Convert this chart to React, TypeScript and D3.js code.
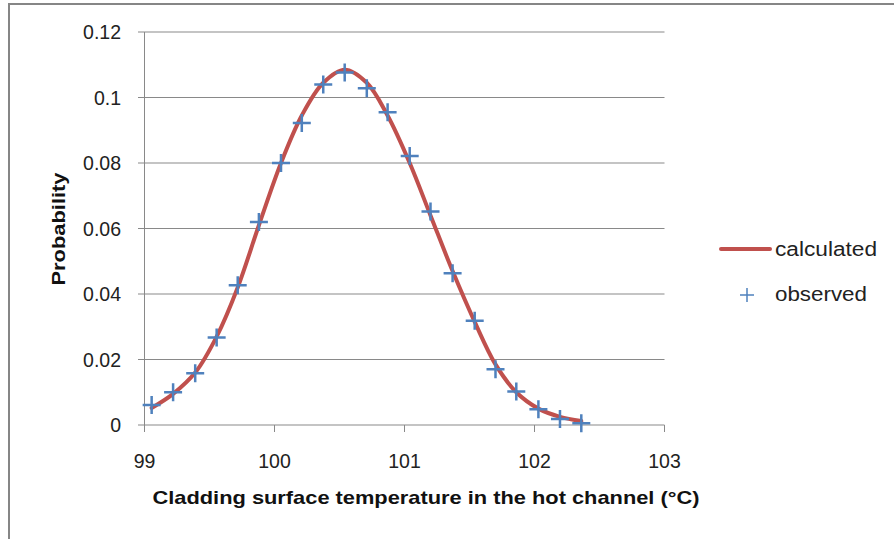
import React from 'react';
import * as d3 from 'd3';

// temperatures (°C) of the observed points
const temps = [99.055, 99.22, 99.39, 99.555, 99.717, 99.88, 100.05, 100.21, 100.375, 100.54, 100.71,
  100.87, 101.04, 101.2, 101.37, 101.54, 101.7, 101.86, 102.03, 102.196, 102.36];
const observed = [0.0061, 0.010, 0.0158, 0.0267, 0.0427, 0.062, 0.080, 0.0922, 0.104, 0.1076, 0.1028,
  0.0955, 0.0821, 0.0652, 0.0463, 0.0318, 0.017, 0.0102, 0.0048, 0.0018, 0.0005];
const calculated = [0.0052, 0.0095, 0.016, 0.027, 0.042, 0.061, 0.080, 0.0945, 0.1045, 0.1085, 0.1045,
  0.0945, 0.080, 0.064, 0.047, 0.0315, 0.0185, 0.010, 0.005, 0.0025, 0.0012];
const xTicks = [99, 100, 101, 102, 103];
const yTicks = [0, 0.02, 0.04, 0.06, 0.08, 0.1, 0.12];

const App = () => {
  const width = 894, height = 539;
  const x = d3.scaleLinear().domain([99, 103]).range([144.5, 664.5]);
  const y = d3.scaleLinear().domain([0, 0.12]).range([425, 32]);
  const grid = '#898989';
  const font = '"Liberation Sans", Arial, sans-serif';

  const line = d3.line<number>()
    .x((d, i) => x(temps[i]))
    .y(d => y(d))
    .curve(d3.curveCatmullRom.alpha(0.5));

  const plus = (cx: number, cy: number, s: number) =>
    `M${cx - s},${cy}H${cx + s}M${cx},${cy - s}V${cy + s}`;

  return (
    <svg width={width} height={height} style={{ position: 'absolute', left: 0, top: 0 }}>
      <rect x={0} y={0} width={width} height={height} fill="#fff" />
      <rect x={9} y={4} width={width + 10} height={height + 10} fill="none" stroke="#868686" strokeWidth={2} />

      {/* gridlines and y ticks */}
      {yTicks.map(t => (
        <g key={t}>
          <line x1={138} x2={x(103)} y1={y(t)} y2={y(t)} stroke={grid} strokeWidth={1} />
          <text x={121} y={y(t) + 7} textAnchor="end" fontFamily={font} fontSize={19.5} fill="#222">{t}</text>
        </g>
      ))}
      <line x1={x(99)} x2={x(99)} y1={y(0.12)} y2={y(0) + 6} stroke={grid} strokeWidth={1} />
      {xTicks.map(t => (
        <g key={t}>
          <line x1={x(t)} x2={x(t)} y1={y(0)} y2={y(0) + 7} stroke={grid} strokeWidth={1} />
          <text x={x(t)} y={468} textAnchor="middle" fontFamily={font} fontSize={19.5} fill="#222">{t}</text>
        </g>
      ))}

      {/* calculated curve */}
      <path d={line(calculated) || ''} fill="none" stroke="#C0504D" strokeWidth={4} strokeLinecap="round" />

      {/* observed points */}
      {observed.map((v, i) => (
        <path key={i} d={plus(x(temps[i]), y(v), 9)} stroke="#4F81BD" strokeWidth={2.5} fill="none" />
      ))}

      {/* axis titles */}
      <text x={426} y={504} textAnchor="middle" fontFamily={font} fontWeight="bold" fontSize={18.5}
        textLength={547} lengthAdjust="spacingAndGlyphs" fill="#111">
        Cladding surface temperature in the hot channel (°C)
      </text>
      <text transform="translate(65,229) rotate(-90)" textAnchor="middle" fontFamily={font} fontWeight="bold"
        fontSize={18} textLength={113} lengthAdjust="spacingAndGlyphs" fill="#111">
        Probability
      </text>

      {/* legend */}
      <line x1={721} x2={770} y1={249} y2={249} stroke="#C0504D" strokeWidth={4} strokeLinecap="round" />
      <text x={775} y={256} fontFamily={font} fontSize={20} textLength={102} lengthAdjust="spacingAndGlyphs"
        fill="#222">calculated</text>
      <path d={plus(747, 295, 7)} stroke="#4F81BD" strokeWidth={1.5} fill="none" />
      <text x={775} y={301} fontFamily={font} fontSize={20} textLength={92} lengthAdjust="spacingAndGlyphs"
        fill="#222">observed</text>
    </svg>
  );
};

export default App;
